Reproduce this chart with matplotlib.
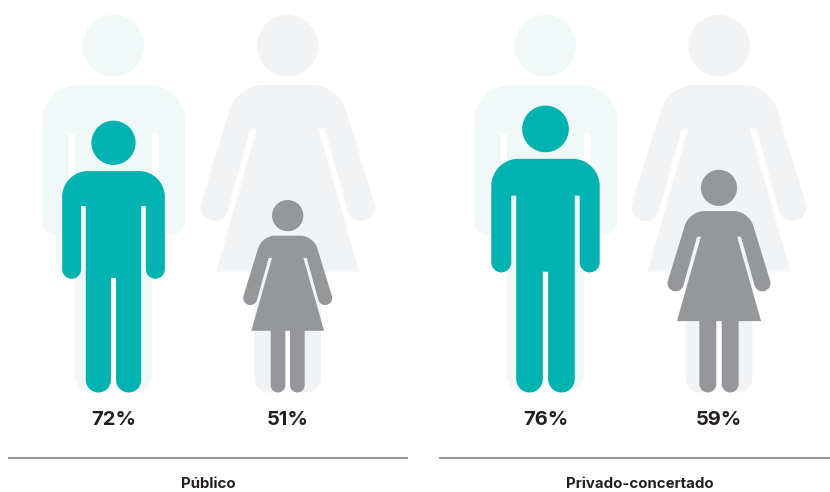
import numpy as np
import matplotlib
matplotlib.use("Agg")
import matplotlib.pyplot as plt
from matplotlib.patches import Circle, PathPatch
from matplotlib.path import Path

plt.rcParams['font.family'] = ['Inter', 'DejaVu Sans']

categories = ["Público", "Privado-concertado"]
men_values = [72, 76]
women_values = [51, 59]

TEAL = "#00B2B0"
TEAL_PALE = "#F0F8F8"
GREY = "#96979B"
GREY_PALE = "#F1F3F5"

BASE_Y = 99.5  # px above the bottom edge, where the feet stand
HEAD_R = 30.7
HEAD_Y = 346.8

# right half outlines of the 100% figures: x from centre, y from feet, corner radius
MAN = [(0, 307.5, 0), (71.3, 307.5, 38), (71.3, 158, 13.1), (45, 158, 13.1), (45, 259, 0),
       (38.5, 259, 0), (38.5, 0, 17.5), (3.5, 0, 17.5), (3.5, 159, 0), (0, 159, 0)]
WOMAN = [(0, 307.5, 0), (50.4, 307.5, 41), (90.7, 176.1, 13.5), (63.9, 168.1, 13.5), (37.3, 264, 0),
         (30.7, 264, 0), (71.3, 121, 0), (33.3, 121, 0), (33.3, 0, 14.4), (4.6, 0, 14.4),
         (4.6, 121, 0), (0, 121, 0)]


def rounded_path(half):
    # mirror the half outline and round the corners that have a radius
    left = [(-x, y, r) for x, y, r in reversed(half)]
    pts = half + [p for p in left if p[0] != 0]
    verts, codes = [], []
    n = len(pts)
    for i in range(n):
        prev = np.array(pts[i - 1][:2], float)
        cur = np.array(pts[i][:2], float)
        nxt = np.array(pts[(i + 1) % n][:2], float)
        r = pts[i][2]
        if r == 0:
            verts.append(cur)
            codes.append(Path.LINETO)
            continue
        u0 = (prev - cur) / np.linalg.norm(prev - cur)
        u1 = (nxt - cur) / np.linalg.norm(nxt - cur)
        ang = np.arccos(np.clip(u0 @ u1, -1, 1))
        t = r / np.tan(ang / 2)
        t = min(t, np.linalg.norm(prev - cur) * 0.5, np.linalg.norm(nxt - cur) * 0.5)
        a = cur + u0 * t
        b = cur + u1 * t
        verts += [a, cur + u0 * t * 0.45, cur + u1 * t * 0.45, b]
        codes += [Path.LINETO, Path.CURVE4, Path.CURVE4, Path.CURVE4]
    codes[0] = Path.MOVETO
    verts.append(verts[0])
    codes.append(Path.CLOSEPOLY)
    return np.array(verts), codes


def draw_person(ax, shape, cx, value, color):
    s = value / 100
    verts, codes = rounded_path(shape)
    verts = verts * s + [cx, BASE_Y]
    ax.add_patch(PathPatch(Path(verts, codes), fc=color, ec="none"))
    ax.add_patch(Circle((cx, BASE_Y + HEAD_Y * s), HEAD_R * s, fc=color, ec="none"))


fig = plt.figure(figsize=(8.3, 4.92), dpi=100)
ax = fig.add_axes([0, 0, 1, 1])
ax.set_xlim(0, 830)
ax.set_ylim(0, 492)
ax.axis("off")

man_x = [113.5, 545.5]
woman_x = [287.7, 719]
rule_x = [(8, 408), (439, 830)]
label_x = [208, 640]

for i, cat in enumerate(categories):
    draw_person(ax, MAN, man_x[i], 100, TEAL_PALE)
    draw_person(ax, WOMAN, woman_x[i], 100, GREY_PALE)
    draw_person(ax, MAN, man_x[i], men_values[i], TEAL)
    draw_person(ax, WOMAN, woman_x[i], women_values[i], GREY)

    ax.text(man_x[i], 72, f"{men_values[i]}%", ha="center", va="center",
            fontsize=14.5, fontweight="bold", color="#231F20")
    ax.text(woman_x[i], 72, f"{women_values[i]}%", ha="center", va="center",
            fontsize=14.5, fontweight="bold", color="#231F20")
    ax.plot(rule_x[i], [34, 34], color="#777777", lw=1.1, solid_capstyle="butt")
    ax.text(label_x[i], 7.5, cat, ha="center", va="center",
            fontsize=10.8, fontweight="bold", color="#231F20")

fig.savefig("out.png", dpi=100)
